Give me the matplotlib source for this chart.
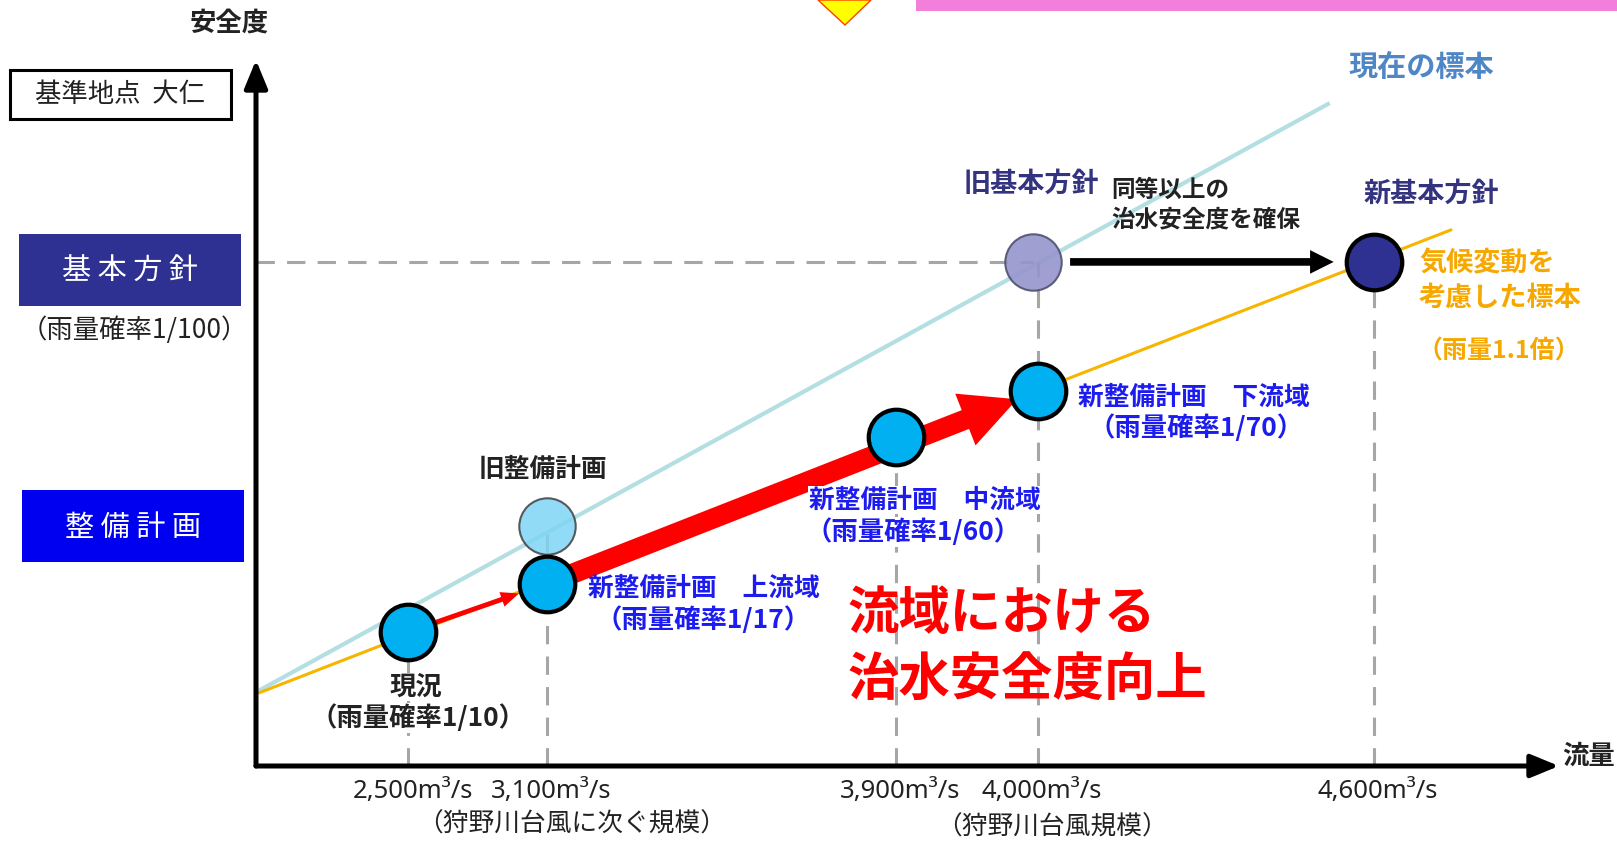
import matplotlib.pyplot as plt
from matplotlib.patches import Rectangle, Polygon

plt.rcParams['font.family'] = ['Noto Sans CJK JP', 'DejaVu Sans']

W, H = 1617, 841

# horizontal axis: flow labels and their (schematic) positions on the axis, 0-100
flow_labels = ['2,500m³/s', '3,100m³/s', '3,900m³/s', '4,000m³/s', '4,600m³/s']
flow_x = [11.7, 22.3, 49.1, 60.0, 85.8]

# new plan points: current, upstream, midstream, downstream (safety level 0-100)
plan_x = [11.7, 22.3, 49.1, 60.0]
plan_y = [19.0, 25.8, 46.6, 53.1]

# old plan
old_plan_x = [22.3]
old_plan_y = [34.0]

# old / new basic policy
policy_x = [59.6, 85.8]
policy_y = [71.4, 71.4]

# top of each vertical guide line
guide_top = [19.0, 34.0, 46.6, 71.4, 71.4]

# standard lines: current standard / standard considering climate change
current_std_x = [0.15, 82.4]
current_std_y = [10.6, 93.9]
climate_std_x = [0.15, 91.8]
climate_std_y = [10.3, 76.0]


def ftext(x, y, s, **kw):
    # place text by pixel position in the figure
    return fig.text(x / W, 1 - y / H, s, **kw)


def frect(x0, y0, x1, y1, **kw):
    r = Rectangle((x0 / W, 1 - y1 / H), (x1 - x0) / W, (y1 - y0) / H,
                  transform=fig.transFigure, **kw)
    fig.patches.append(r)


fig = plt.figure(figsize=(W / 100, H / 100), dpi=100)
ax = fig.add_axes([256 / W, 1 - 766 / H, 1303 / W, 706 / H])
ax.set_xlim(0, 100)
ax.set_ylim(0, 100)
ax.axis('off')

# axes arrows
for end in [(100, 0), (0, 100)]:
    ax.annotate('', xy=end, xytext=(0, 0),
                arrowprops=dict(arrowstyle='-|>,head_length=17,head_width=7',
                                mutation_scale=1, lw=3.6, color='black',
                                shrinkA=0, shrinkB=0), zorder=6)

# standard lines
ax.plot(current_std_x, current_std_y, color='#b3dfe3', lw=3, zorder=1,
        solid_capstyle='butt')
ax.plot(climate_std_x, climate_std_y, color='#f7b500', lw=2.2, zorder=1,
        solid_capstyle='butt')

# guide lines
ax.vlines(flow_x, 0, guide_top, colors='#a6a6a6', lw=2.2,
          linestyles=(0, (6, 4)), zorder=2)
ax.hlines(policy_y[0], 0, policy_x[0], colors='#a6a6a6', lw=2.2,
          linestyles=(0, (6, 4)), zorder=2)

# black arrow old policy -> new policy
ax.annotate('', xy=(policy_x[1], policy_y[1]), xytext=(policy_x[0], policy_y[0]),
            arrowprops=dict(arrowstyle='simple,head_length=17,head_width=17,tail_width=5.5',
                            mutation_scale=1, color='black', lw=0,
                            shrinkA=27, shrinkB=29), zorder=4)

# red arrows
ax.annotate('', xy=(plan_x[1], plan_y[1]), xytext=(plan_x[0], plan_y[0]),
            arrowprops=dict(arrowstyle='simple,head_length=13,head_width=11,tail_width=3.5',
                            mutation_scale=1, color='#ff0000', lw=0,
                            shrinkA=21, shrinkB=21), zorder=4)
ax.annotate('', xy=(plan_x[3], plan_y[3]), xytext=(plan_x[1], plan_y[1]),
            arrowprops=dict(arrowstyle='simple,head_length=40,head_width=40,tail_width=14.5',
                            mutation_scale=1, color='#ff0000', lw=0,
                            shrinkA=18, shrinkB=16), zorder=4)

# circles
ax.scatter(old_plan_x, old_plan_y, s=1650, c='#7fd5f5', alpha=0.85,
           edgecolors='#404040', linewidths=1.5, zorder=3)
ax.scatter(plan_x, plan_y, s=1600, c='#00b0f0', edgecolors='black',
           linewidths=3, zorder=5)
ax.scatter(policy_x[:1], policy_y[:1], s=1650, c='#9595cc', alpha=0.9,
           edgecolors='#505070', linewidths=1.5, zorder=3)
ax.scatter(policy_x[1:], policy_y[1:], s=1600, c='#2e3192', edgecolors='black',
           linewidths=3, zorder=5)

# tick labels
for x, lab in zip(flow_x, flow_labels):
    ax.annotate(lab, (x, 0), xytext=(3, -18.5), textcoords='offset points',
                ha='center', va='center', fontsize=18.5, color='#222222',
                family=['Noto Sans', 'DejaVu Sans'])
ftext(572, 825, '（狩野川台風に次ぐ規模）', ha='center', va='center', fontsize=18.5,
      color='#222222')
ftext(1052, 828, '（狩野川台風規模）', ha='center', va='center', fontsize=18.5,
      color='#222222')

# axis titles
ftext(229, 23, '安全度', ha='center', va='center', fontsize=19, weight='bold',
      color='#222222')
ftext(1562, 756, '流量', ha='left', va='center', fontsize=19, weight='bold',
      color='#222222')

# left side boxes
frect(10, 70, 231, 119, facecolor='white', edgecolor='black', lw=2.2)
ftext(120, 94, '基準地点  大仁', ha='center', va='center', fontsize=19,
      color='#222222')
frect(19, 234, 241, 306, facecolor='#2e3192', edgecolor='none')
ftext(130, 272, '基 本 方 針', ha='center', va='center', fontsize=21,
      color='white')
ftext(134, 330, '（雨量確率1/100）', ha='center', va='center', fontsize=19,
      color='#222222')
frect(22, 490, 244, 562, facecolor='#0000f0', edgecolor='none')
ftext(133, 528, '整 備 計 画', ha='center', va='center', fontsize=21,
      color='white')

# point labels
white = dict(facecolor='white', edgecolor='none', pad=0.5)
ftext(416, 687, '現況', ha='center', va='center', fontsize=19, weight='bold',
      color='#222222', bbox=white)
ftext(418, 718, '（雨量確率1/10）', ha='center', va='center', fontsize=19,
      weight='bold', color='#222222', bbox=white)
ftext(543, 469, '旧整備計画', ha='center', va='center', fontsize=18.5,
      weight='bold', color='#222222')
blue = '#1c1cf0'
ftext(588, 588, '新整備計画　上流域', ha='left', va='center', fontsize=18.5,
      weight='bold', color=blue)
ftext(703, 620, '（雨量確率1/17）', ha='center', va='center', fontsize=19,
      weight='bold', color=blue)
ftext(925, 500, '新整備計画　中流域', ha='center', va='center', fontsize=18.5,
      weight='bold', color=blue, bbox=white)
ftext(913, 532, '（雨量確率1/60）', ha='center', va='center', fontsize=19,
      weight='bold', color=blue, bbox=white)
ftext(1078, 397, '新整備計画　下流域', ha='left', va='center', fontsize=18.5,
      weight='bold', color=blue)
ftext(1088, 428, '（雨量確率1/70）', ha='left', va='center', fontsize=19,
      weight='bold', color=blue)

navy = '#33337f'
ftext(1031, 184, '旧基本方針', ha='center', va='center', fontsize=19.5,
      color=navy, weight='bold')
ftext(1111, 190, '同等以上の', ha='left', va='center', fontsize=17,
      weight='bold', color='#222222')
ftext(1111, 219, '治水安全度を確保', ha='left', va='center', fontsize=17,
      weight='bold', color='#222222')
ftext(1431, 194, '新基本方針', ha='center', va='center', fontsize=19.5,
      color=navy, weight='bold')

orange = '#f7a800'
ftext(1419, 263, '気候変動を', ha='left', va='center', fontsize=19.5,
      weight='bold', color=orange)
ftext(1419, 298, '考慮した標本', ha='left', va='center', fontsize=19.5,
      weight='bold', color=orange)
ftext(1417, 351, '（雨量1.1倍）', ha='left', va='center', fontsize=18,
      weight='bold', color=orange)
ftext(1421, 67, '現在の標本', ha='center', va='center', fontsize=21,
      weight='bold', color='#4f86c6')

ftext(848, 614, '流域における', ha='left', va='center', fontsize=37,
      weight='bold', color='#ff0000')
ftext(848, 679, '治水安全度向上', ha='left', va='center', fontsize=37,
      weight='bold', color='#ff0000')

# cut-off decorations along the top edge
frect(916, 0, W, 11, facecolor='#f27fdb', edgecolor='none')
tri = Polygon([(818 / W, 1.0), (871 / W, 1.0), (845 / W, 1 - 25 / H)],
              closed=True, transform=fig.transFigure, facecolor='#ffff00',
              edgecolor='#ff4000', lw=1)
fig.patches.append(tri)

fig.savefig('out.png', dpi=100)
